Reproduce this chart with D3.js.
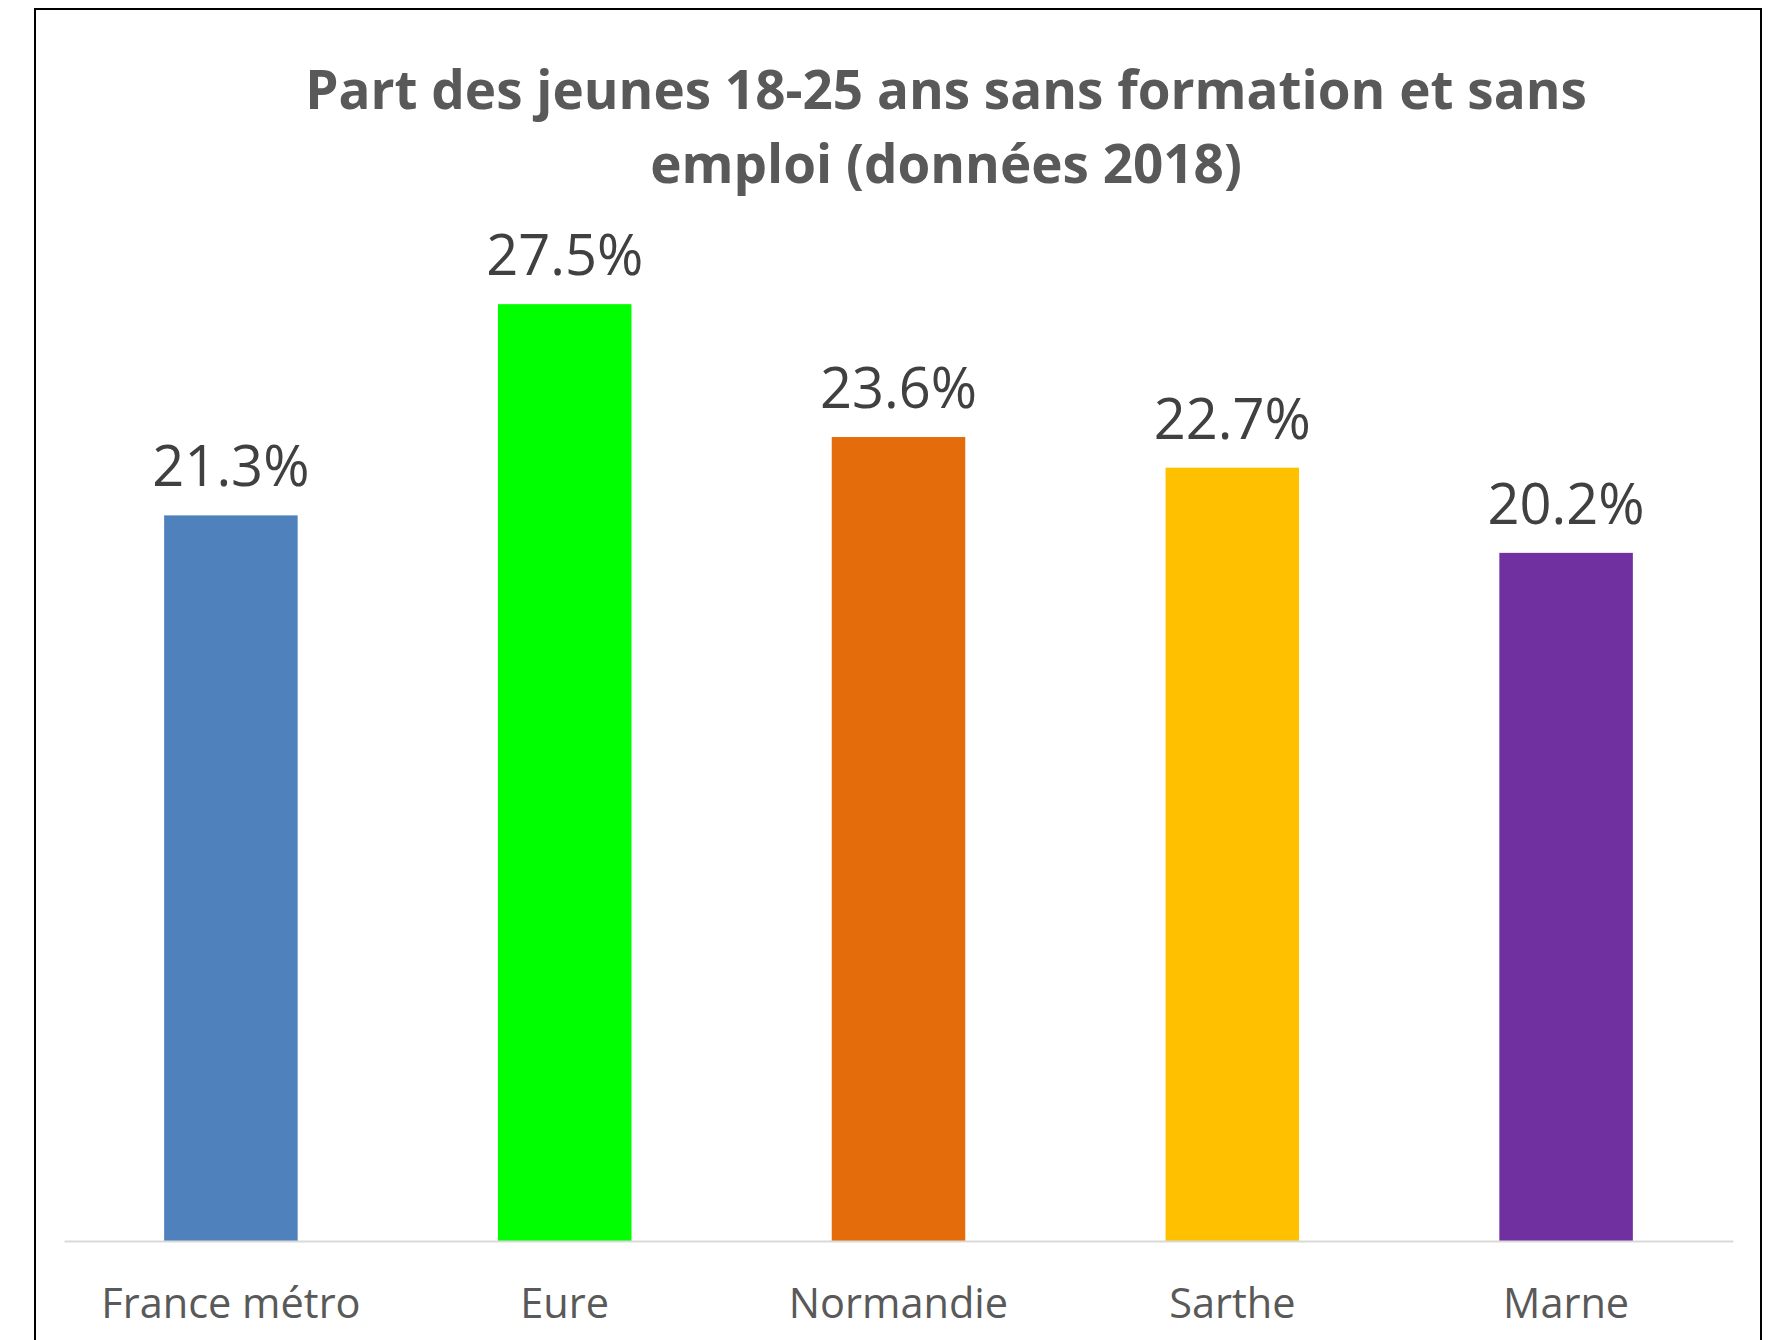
<!DOCTYPE html>
<html>
<head>
<meta charset="utf-8">
<script src="https://cdn.jsdelivr.net/npm/d3@7"></script>
<style>
  body { margin: 0; background: #fff; }
  svg { display: block; font-family: "Open Sans", "Noto Sans", sans-serif; }
</style>
</head>
<body>
<svg width="1770" height="1340"></svg>
<script>
var categories = ["France métro", "Eure", "Normandie", "Sarthe", "Marne"];
var values = [21.3, 27.5, 23.6, 22.7, 20.2];
var colors = ["#4F81BD", "#00FF00", "#E46C0A", "#FFC000", "#7030A0"];
var titleLines = ["Part des jeunes 18-25 ans sans formation et sans", "emploi (données 2018)"];

var svg = d3.select("svg"),
    width = +svg.attr("width"),
    height = +svg.attr("height");

// cadre du graphique (le bas sort de l'image)
svg.append("rect")
    .attr("x", 35)
    .attr("y", 9)
    .attr("width", 1726)
    .attr("height", 1400)
    .attr("fill", "none")
    .attr("stroke", "#000")
    .attr("stroke-width", 2);

var x = d3.scaleBand()
    .domain(categories)
    .range([64, 1733])
    .paddingInner(0.6)
    .paddingOuter(0.3);

var y = d3.scaleLinear()
    .domain([0, 30])
    .range([1241, 219]);

// titre
svg.append("g")
    .selectAll("text")
    .data(titleLines)
    .enter().append("text")
    .attr("x", 946)
    .attr("y", function(d, i) { return 109 + i * 74; })
    .attr("text-anchor", "middle")
    .attr("font-size", 53)
    .attr("font-weight", "bold")
    .attr("fill", "#595959")
    .text(function(d) { return d; });

// barres
svg.append("g")
    .selectAll("rect")
    .data(values)
    .enter().append("rect")
    .attr("x", function(d, i) { return x(categories[i]); })
    .attr("y", function(d) { return y(d); })
    .attr("width", x.bandwidth())
    .attr("height", function(d) { return y(0) - y(d); })
    .attr("fill", function(d, i) { return colors[i]; });

// étiquettes de valeurs
svg.append("g")
    .selectAll("text")
    .data(values)
    .enter().append("text")
    .attr("x", function(d, i) { return x(categories[i]) + x.bandwidth() / 2; })
    .attr("y", function(d) { return y(d) - 29; })
    .attr("text-anchor", "middle")
    .attr("font-size", 56)
    .attr("fill", "#404040")
    .text(function(d) { return d.toFixed(1) + "%"; });

// axe des catégories
var xAxis = svg.append("g")
    .attr("transform", "translate(0," + y(0) + ")")
    .call(d3.axisBottom(x).tickSize(0).tickPadding(0));

xAxis.select(".domain")
    .attr("stroke", "#D9D9D9")
    .attr("stroke-width", 2);

xAxis.selectAll("text")
    .attr("dy", null)
    .attr("y", 77)
    .attr("font-family", "\"Open Sans\", sans-serif")
    .attr("font-size", 41.5)
    .attr("fill", "#595959");
</script>
</body>
</html>
